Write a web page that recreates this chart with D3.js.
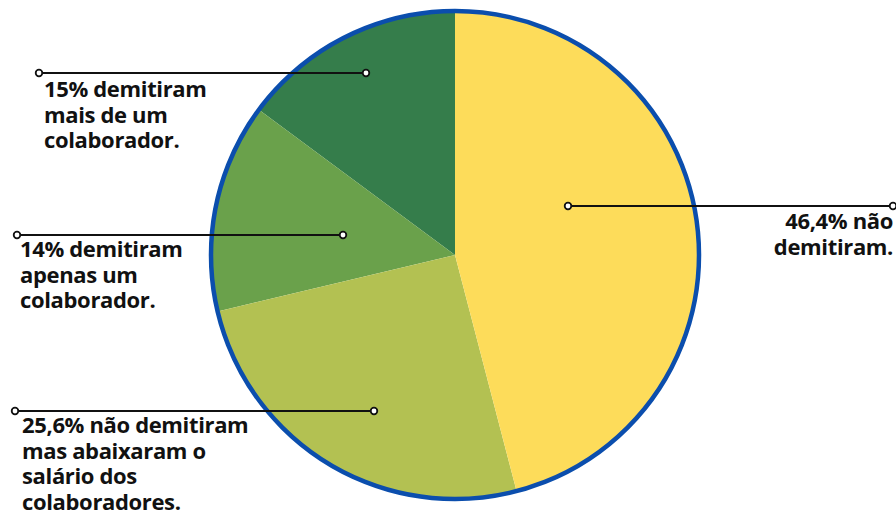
<!DOCTYPE html>
<html><head><meta charset="utf-8">
<script src="https://cdn.jsdelivr.net/npm/d3@7"></script>
<style>body{margin:0;background:#fff}svg{display:block}</style>
</head><body>
<script>
const categories = ["46,4% não demitiram.", "25,6% não demitiram mas abaixaram o salário dos colaboradores.", "14% demitiram apenas um colaborador.", "15% demitiram mais de um colaborador."];
const values = [46.4, 25.6, 14, 15];
const colors = ["#FDDC5A", "#B3C152", "#6AA14B", "#357D4B"];
const labelLines = [
  ["46,4% não", "demitiram."],
  ["25,6% não demitiram", "mas abaixaram o", "salário dos", "colaboradores."],
  ["14% demitiram", "apenas um", "colaborador."],
  ["15% demitiram", "mais de um", "colaborador."]
];

const W = 896, H = 517;
const cx = 455, cy = 255, R = 244;
const svg = d3.select("body").append("svg").attr("width", W).attr("height", H);

const total = d3.sum(values);
const pie = d3.pie().sort(null).value(d => d).startAngle(0).endAngle(2 * Math.PI * total / 100);
const arcs = pie(values);
const arc = d3.arc().innerRadius(0).outerRadius(R);

const g = svg.append("g").attr("transform", `translate(${cx},${cy})`);
g.selectAll("path.slice").data(arcs.slice().reverse()).join("path")
  .attr("class", "slice")
  .attr("d", arc)
  .attr("fill", d => colors[d.index]);
g.append("circle").attr("r", R).attr("fill", "none").attr("stroke", "#0B4EAD").attr("stroke-width", 4.5);

const leaders = [
  {x1: 568, y: 206, x2: 893, anchor: "end", tx: 893, ty: 229},
  {x1: 374, y: 411, x2: 15, anchor: "start", tx: 22, ty: 433},
  {x1: 343, y: 235, x2: 17, anchor: "start", tx: 20, ty: 257},
  {x1: 366, y: 73, x2: 39, anchor: "start", tx: 44, ty: 97}
];

leaders.forEach((L, i) => {
  svg.append("line").attr("x1", L.x1).attr("x2", L.x2).attr("y1", L.y).attr("y2", L.y)
    .attr("stroke", "#111").attr("stroke-width", 2);
  [L.x1, L.x2].forEach(x => svg.append("circle").attr("cx", x).attr("cy", L.y).attr("r", 3.3)
    .attr("fill", "#fff").attr("stroke", "#111").attr("stroke-width", 1.8));
  const t = svg.append("text").attr("text-anchor", L.anchor)
    .attr("font-family", "'Open Sans', sans-serif").attr("font-weight", 700)
    .attr("font-size", 22).attr("letter-spacing", -0.35).attr("fill", "#111");
  labelLines[i].forEach((ln, j) => t.append("tspan").attr("x", L.tx).attr("y", L.ty + j * 25.5).text(ln));
});
</script>
</body></html>
